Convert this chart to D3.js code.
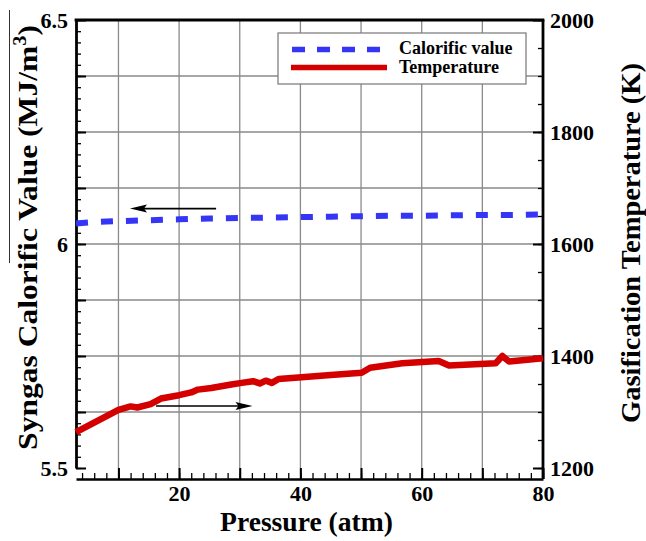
<!DOCTYPE html>
<html>
<head>
<meta charset="utf-8">
<script src="https://cdn.jsdelivr.net/npm/d3@7"></script>
<style>
  html, body { margin: 0; padding: 0; background: #fff; }
  svg { display: block; }
  svg text { font-family: "Liberation Serif", Tinos, "Times New Roman", Times, "DejaVu Serif", serif !important; font-weight: bold; fill: #000; }
</style>
</head>
<body>
<svg id="chart" width="646" height="541"></svg>
<script>
// Syngas calorific value (left axis) and gasification temperature (right axis) vs pressure
const calPressure = [3, 5, 8, 10, 15, 20, 25, 30, 35, 40, 45, 50, 55, 60, 65, 70, 75, 80];
const calValue    = [6.046, 6.048, 6.050, 6.051, 6.053, 6.055, 6.057, 6.058, 6.059, 6.060, 6.061, 6.062, 6.063, 6.063, 6.064, 6.065, 6.065, 6.066];

const tempPressure = [3, 10, 12, 13.1, 15.3, 17, 20, 22, 23.1, 25.3, 28.6, 30.3, 32.2, 33.3, 34.3, 35.3, 36.4, 40.2, 45, 50.1, 51.5, 56.8, 62.8, 64.5, 72.2, 73.3, 74.4, 80];
const tempValue    = [1264, 1304, 1310, 1308, 1314, 1324, 1330, 1335, 1340, 1343, 1349, 1352, 1355, 1351, 1356, 1352, 1359, 1362, 1366, 1370, 1379, 1387, 1391, 1383, 1387, 1400, 1390, 1396];

const xMajorTicks = [10, 20, 30, 40, 50, 60, 70, 80];
const xLabelTicks = [20, 40, 60, 80];
const leftLabelTicks = [5.5, 6, 6.5];
const leftLabelText  = ["5.5", "6", "6.5"];
const rightLabelTicks = [1200, 1400, 1600, 1800, 2000];

const seriesNames = ["Calorific value", "Temperature"];
const seriesColors = ["#3535f5", "#d40000"];

const svg = d3.select("#chart");
const L = 76, R = 543, T = 20, B = 468, AX = 479;

const x  = d3.scaleLinear().domain([3, 80]).range([L, R]);
const yL = d3.scaleLinear().domain([5.5, 6.5]).range([B, T]);
const yR = d3.scaleLinear().domain([1200, 2000]).range([B, T]);

const leftMajor = d3.range(0, 9).map(i => 5.5 + i * 0.125);
const leftMinor = d3.range(0, 41).map(i => 5.5 + i * 0.025);
const rightMajor = d3.range(1200, 2001, 200);
const rightMinor = d3.range(1200, 2001, 50);
const xMinor = d3.range(4, 80.01, 2);

// grid
const grid = svg.append("g").attr("stroke", "#8a8a8a").attr("stroke-width", 1.3);
grid.selectAll("line.v").data(xMajorTicks.filter(d => d < 80)).join("line")
  .attr("x1", d => x(d)).attr("x2", d => x(d)).attr("y1", T).attr("y2", AX);
grid.selectAll("line.h").data(leftMajor.filter(d => d > 5.5 && d < 6.5)).join("line")
  .attr("x1", L).attr("x2", R).attr("y1", d => yL(d)).attr("y2", d => yL(d));

// axes
function styleAxis(g, w) {
  g.attr("font-family", null).attr("font-size", null);
  g.select(".domain").attr("stroke", "#000").attr("stroke-width", w);
  g.selectAll(".tick line").attr("stroke", "#000").attr("stroke-width", 2);
  g.selectAll(".tick text").style("font-size", "22px").attr("fill", "#000");
}

// bottom axis
const xMinorAxis = d3.axisBottom(x).tickValues(xMinor).tickSize(-6).tickSizeOuter(0).tickFormat("");
svg.append("g").attr("transform", `translate(0,${AX})`).call(xMinorAxis).call(g => styleAxis(g, 2.6))
  .selectAll(".tick line").attr("stroke-width", 1.3);
const xMajorAxis = d3.axisBottom(x).tickValues(xMajorTicks).tickSize(-11).tickSizeOuter(0).tickPadding(6)
  .tickFormat(d => xLabelTicks.includes(d) ? String(d) : "");
svg.append("g").attr("transform", `translate(0,${AX})`).call(xMajorAxis).call(g => styleAxis(g, 2.6))
  .call(g => g.select(".domain").remove());

// left axis
const yLMinorAxis = d3.axisLeft(yL).tickValues(leftMinor).tickSize(-5).tickSizeOuter(0).tickFormat("");
svg.append("g").attr("transform", `translate(${L},0)`).call(yLMinorAxis).call(g => styleAxis(g, 2.8))
  .selectAll(".tick line").attr("stroke-width", 1.3);
const yLMajorAxis = d3.axisLeft(yL).tickValues(leftMajor).tickSize(-10).tickSizeOuter(0).tickPadding(8)
  .tickFormat(d => {
    const i = leftLabelTicks.findIndex(v => Math.abs(v - d) < 1e-9);
    return i >= 0 ? leftLabelText[i] : "";
  });
svg.append("g").attr("transform", `translate(${L},0)`).call(yLMajorAxis).call(g => styleAxis(g, 2.8))
  .call(g => g.select(".domain").remove());

// right axis
svg.append("line").attr("x1", R).attr("x2", R).attr("y1", T).attr("y2", AX)
  .attr("stroke", "#000").attr("stroke-width", 2.8);
const yRMinorAxis = d3.axisRight(yR).tickValues(rightMinor).tickSize(-5).tickSizeOuter(0).tickFormat("");
svg.append("g").attr("transform", `translate(${R},0)`).call(yRMinorAxis).call(g => styleAxis(g, 2.8))
  .call(g => g.select(".domain").remove())
  .selectAll(".tick line").attr("stroke-width", 1.3);
const yRMajorAxis = d3.axisRight(yR).tickValues(rightMajor).tickSize(-10).tickSizeOuter(0).tickPadding(7)
  .tickFormat(d => rightLabelTicks.includes(d) ? String(d) : "");
svg.append("g").attr("transform", `translate(${R},0)`).call(yRMajorAxis).call(g => styleAxis(g, 2.8))
  .call(g => g.select(".domain").remove());

// top border
svg.append("line").attr("x1", L - 1.4).attr("x2", R + 1.4).attr("y1", T).attr("y2", T)
  .attr("stroke", "#000").attr("stroke-width", 2.8);

// series
const lineCal = d3.line().x((d, i) => x(calPressure[i])).y(d => yL(d));
svg.append("path").datum(calValue).attr("d", lineCal)
  .attr("fill", "none").attr("stroke", seriesColors[0]).attr("stroke-width", 6)
  .attr("stroke-dasharray", "12,13");

const lineTemp = d3.line().x((d, i) => x(tempPressure[i])).y(d => yR(d));
svg.append("path").datum(tempValue).attr("d", lineTemp)
  .attr("fill", "none").attr("stroke", seriesColors[1]).attr("stroke-width", 6.5)
  .attr("stroke-linejoin", "round");

// direction arrows
function arrow(x1, x2, y) {
  const dir = Math.sign(x2 - x1);
  svg.append("line").attr("x1", x1).attr("x2", x2 - dir * 12).attr("y1", y).attr("y2", y)
    .attr("stroke", "#000").attr("stroke-width", 1.6);
  svg.append("path")
    .attr("d", `M${x2},${y} L${x2 - dir * 17},${y - 4} L${x2 - dir * 14},${y} L${x2 - dir * 17},${y + 4} Z`)
    .attr("fill", "#000");
}
arrow(x(26.1), x(11.9), yL(6.079));
arrow(x(16.2), x(32.1), yR(1310.7));

// legend
const lg = svg.append("g");
lg.append("rect").attr("x", 278).attr("y", 33).attr("width", 248).attr("height", 51)
  .attr("fill", "#fff").attr("stroke", "#777").attr("stroke-width", 1.2);
lg.append("line").attr("x1", 292).attr("x2", 387).attr("y1", 49.5).attr("y2", 49.5)
  .attr("stroke", seriesColors[0]).attr("stroke-width", 5.5).attr("stroke-dasharray", "13,12");
lg.append("line").attr("x1", 291).attr("x2", 387).attr("y1", 67.5).attr("y2", 67.5)
  .attr("stroke", seriesColors[1]).attr("stroke-width", 5.5);
lg.append("text").attr("x", 399).attr("y", 54).style("font-size", "18px").text(seriesNames[0]);
lg.append("text").attr("x", 399).attr("y", 72.5).style("font-size", "18px").text(seriesNames[1]);

// axis titles, stretched along their length to a set span
function fitTitle(sel, target) {
  const w = sel.node().getComputedTextLength();
  return target / w;
}
const xt = svg.append("text").attr("text-anchor", "middle").style("font-size", "27px").text("Pressure (atm)");
const sx = fitTitle(xt, 173);
xt.attr("transform", `translate(306.5,531) scale(${sx},1)`);

const lt = svg.append("text").attr("text-anchor", "middle").style("font-size", "28px");
lt.append("tspan").text("Syngas Calorific Value (MJ/m");
lt.append("tspan").attr("dy", -11).style("font-size", "18px").text("3");
lt.append("tspan").attr("dy", 11).text(")");
const sl = fitTitle(lt, 425);
lt.attr("transform", `translate(37,237.5) rotate(-90) scale(${sl},1)`);

const rt = svg.append("text").attr("text-anchor", "middle").style("font-size", "28px").text("Gasification Temperature (K)");
const sr = fitTitle(rt, 360);
rt.attr("transform", `translate(640,243) rotate(-90) scale(${sr},1)`);

// thin rule at the far left edge
svg.append("line").attr("x1", 9.5).attr("x2", 9.5).attr("y1", 10).attr("y2", 263)
  .attr("stroke", "#333").attr("stroke-width", 1);
</script>
</body>
</html>
